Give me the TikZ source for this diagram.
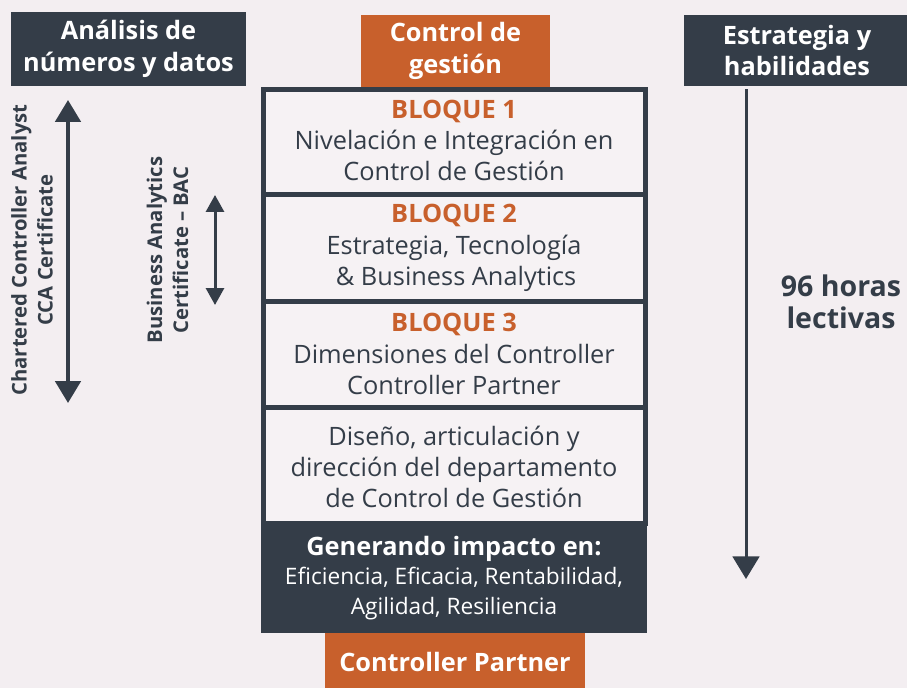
\documentclass[tikz,border=0pt]{standalone}
\usepackage{fontspec}
\setmainfont{Open Sans}
\usetikzlibrary{arrows.meta}
\definecolor{fondo}{HTML}{F3EEF1}
\definecolor{claro}{HTML}{F6F2F4}
\definecolor{oscuro}{HTML}{343D48}
\definecolor{naranja}{HTML}{C8602C}

\begin{document}
\begin{tikzpicture}[x=0.75pt,y=-0.75pt,line width=2.25pt,
  cabecera/.style={fill=oscuro,text=white,inner sep=0pt,align=center,
    font=\fontsize{19}{23.5}\selectfont\bfseries},
  etapa/.style={cabecera,fill=naranja},
  bloque/.style={align=center,text=oscuro,font=\fontsize{19}{23.5}\selectfont},
  vertical/.style={rotate=90,align=center,text=oscuro,
    font=\fontsize{15.2}{19.5}\selectfont\bfseries},
  flecha/.style={oscuro,-{Triangle[width=20pt,length=17pt]}}]
  \useasboundingbox (0,0) rectangle (907,688);
  \fill[fondo] (0,0) rectangle (907,688);
  % cabeceras
  \node[cabecera,minimum width=176.25pt,minimum height=55.5pt] (analisis) at (128.5,49) {Análisis de\\números y datos};
  \node[etapa,minimum width=141.75pt,minimum height=54pt] (control) at (455.5,51) {Control de\\gestión};
  \node[cabecera,minimum width=169.5pt,minimum height=53.25pt] (estrategia) at (797,50.5) {Estrategia y\\habilidades};
  % bloques del programa
  \draw[oscuro,line width=3.75pt,fill=claro] (263.5,89.5) rectangle (645,195);
  \draw[oscuro,line width=3.75pt,fill=claro] (263.5,195) rectangle (645,301);
  \draw[oscuro,line width=3.75pt,fill=claro] (263.5,301) rectangle (645,407);
  \draw[oscuro,line width=3.75pt,fill=claro] (263.5,407) rectangle (645,523);
  \node[bloque] (b1) at (454,140.5) {{\color{naranja}\bfseries BLOQUE 1}\\Nivelación e Integración en\\Control de Gestión};
  \node[bloque] (b2) at (454,248) {{\color{naranja}\bfseries BLOQUE 2}\\Estrategia, Tecnología\\\,\& Business Analytics};
  \node[bloque] (b3) at (454,354) {{\color{naranja}\bfseries BLOQUE 3}\\Dimensiones del Controller\\Controller Partner};
  \node[bloque] (b4) at (454,467) {Diseño, articulación y\\dirección del departamento\\de Control de Gestión};
  \node[cabecera,minimum width=289.5pt,minimum height=82.5pt,font=\fontsize{17}{22}\selectfont] (impacto) at (454,578)
    {{\fontsize{19}{22}\selectfont\bfseries Generando impacto en:}\\Eficiencia, Eficacia, Rentabilidad,\\Agilidad, Resiliencia};
  \node[etapa,minimum width=195pt,minimum height=42.75pt] (partner) at (455,661.5) {Controller Partner};
  % certificados
  \node[vertical] (cca) at (32,250) {Chartered Controller Analyst\\CCA Certificate};
  \coordinate (cca-a) at (68,100);
  \coordinate (cca-b) at (68,403);
  \draw[flecha,line width=3pt,{Triangle[width=19pt,length=16.5pt]}-{Triangle[width=19pt,length=16.5pt]}] (cca-a) -- (cca-b);
  \node[vertical] (bac) at (167.5,250) {Business Analytics\\Certificate – BAC};
  \coordinate (bac-a) at (215,195);
  \coordinate (bac-b) at (215,305);
  \draw[flecha,{Triangle[width=13.5pt,length=12.75pt]}-{Triangle[width=13.5pt,length=12.75pt]}] (bac-a) -- (bac-b);
  % horas
  \coordinate (fin) at (746,579);
  \draw[flecha] (estrategia.south -| fin) ++(0,2) -- (fin);
  \node[bloque,font=\fontsize{21.4}{24}\selectfont\bfseries] (horas) at (841,302) {96 horas\\lectivas};
\end{tikzpicture}
\end{document}
